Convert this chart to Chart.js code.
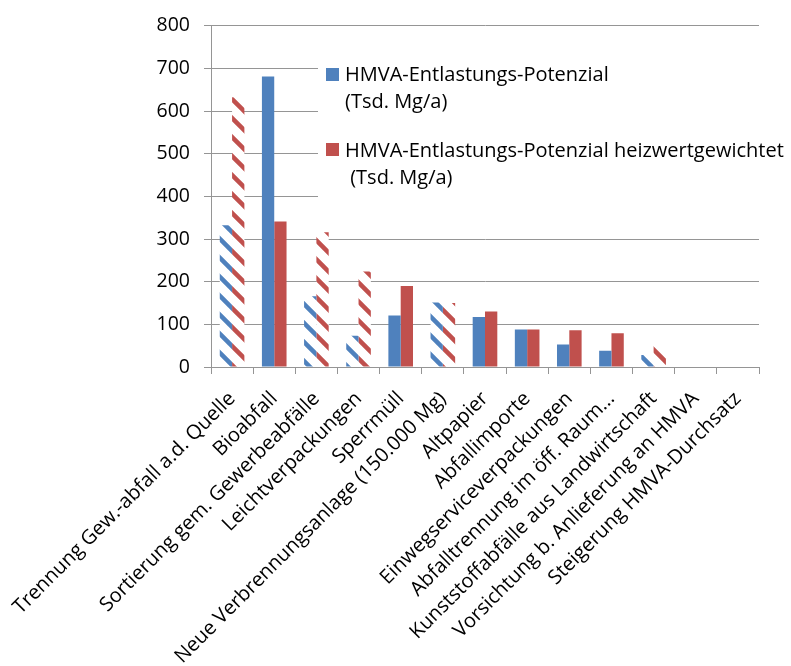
<!DOCTYPE html>
<html><head><meta charset="utf-8">
<script src="https://cdn.jsdelivr.net/npm/chart.js@4.4.1/dist/chart.umd.min.js"></script>
<style>html,body{margin:0;padding:0;background:#fff;overflow:hidden}</style>
</head><body>
<canvas id="c" width="791" height="666"></canvas>
<script>
// ---- data ----
const categories = [
  'Trennung Gew.-abfall a.d. Quelle',
  'Bioabfall',
  'Sortierung gem. Gewerbeabfälle',
  'Leichtverpackungen',
  'Sperrmüll',
  'Neue Verbrennungsanlage (150.000 Mg)',
  'Altpapier',
  'Abfallimporte',
  'Einwegserviceverpackungen',
  'Abfalltrennung im öff. Raum...',
  'Kunststoffabfälle aus Landwirtschaft',
  'Vorsichtung b. Anlieferung an HMVA',
  'Steigerung HMVA-Durchsatz'
];
const potenzial         = [332, 681, 166, 73, 121, 151, 117, 88, 53, 38, 28, 0, 0];
const potenzialHeizwert = [632, 341, 316, 224, 190, 150, 130, 88, 86, 79, 49, 0, 0];
// bars drawn hatched in the original (estimated values)
const potenzialGeschaetzt = [true, false, true, true, false, true, false, false, false, false, true, false, false];
const heizwertGeschaetzt  = [true, false, true, true, false, true, false, false, false, false, true, false, false];
const legendPotenzial = ['HMVA-Entlastungs-Potenzial', '(Tsd. Mg/a)'];
const legendHeizwert  = ['HMVA-Entlastungs-Potenzial heizwertgewichtet', ' (Tsd. Mg/a)'];
const yMin = 0, yMax = 800, yStep = 100;

// ---- styles ----
const BLUE = '#4F81BD', RED = '#C0504D', GRID = '#959595';
const canvas = document.getElementById('c');
const ctx = canvas.getContext('2d');

function hatch(color) {
  const P = 19;
  const t = document.createElement('canvas');
  t.width = P; t.height = P;
  const g = t.getContext('2d');
  g.fillStyle = '#fff'; g.fillRect(0, 0, P, P);
  g.strokeStyle = color; g.lineWidth = 4.5;
  g.beginPath();
  for (const k of [-P, 0, P]) { g.moveTo(-3, -3 + k); g.lineTo(P + 3, P + 3 + k); }
  g.stroke();
  return ctx.createPattern(t, 'repeat');
}
const blueHatch = hatch(BLUE), redHatch = hatch(RED);

Chart.defaults.font.family = "'Open Sans', sans-serif";
Chart.defaults.color = '#000';

const legendPlugin = {
  id: 'customLegend',
  afterDatasetsDraw(chart) {
    const c = chart.ctx;
    c.save();
    c.fillStyle = '#fff';
    c.fillRect(318, 48, 473, 156);
    const items = [
      {color: BLUE, lines: legendPotenzial, boxY: 68, base: 81},
      {color: RED, lines: legendHeizwert, boxY: 143, base: 157}
    ];
    c.font = "20px 'Open Sans', sans-serif";
    c.textBaseline = 'alphabetic';
    c.textAlign = 'left';
    for (const it of items) {
      c.fillStyle = it.color;
      c.fillRect(326, it.boxY, 13, 13);
      c.fillStyle = '#000';
      it.lines.forEach((ln, i) => c.fillText(ln, 345, it.base + i * 27));
    }
    c.restore();
  }
};

new Chart(ctx, {
  type: 'bar',
  data: {
    labels: categories,
    datasets: [
      {
        label: legendPotenzial.join(' '),
        data: potenzial,
        backgroundColor: potenzialGeschaetzt.map(h => h ? blueHatch : BLUE),
        borderWidth: 0
      },
      {
        label: legendHeizwert.join(' '),
        data: potenzialHeizwert,
        backgroundColor: heizwertGeschaetzt.map(h => h ? redHatch : RED),
        borderWidth: 0
      }
    ]
  },
  options: {
    responsive: false,
    animation: false,
    devicePixelRatio: 1,
    layout: {padding: {top: 22, right: 32, left: 0, bottom: 0}},
    datasets: {bar: {categoryPercentage: 0.584, barPercentage: 1.0}},
    plugins: {legend: {display: false}, tooltip: {enabled: false}},
    scales: {
      x: {
        grid: {drawOnChartArea: false, drawTicks: true, tickLength: 7, color: GRID, offset: true},
        border: {color: GRID},
        ticks: {autoSkip: false, minRotation: 45, maxRotation: 45, padding: 13, font: {size: 20}, color: '#000'},
        afterFit(scale) { scale.height = 299; scale.paddingLeft = 0; scale.paddingRight = 0; }
      },
      y: {
        min: yMin, max: yMax,
        grid: {drawTicks: true, tickLength: 7, color: GRID},
        border: {color: GRID},
        ticks: {stepSize: yStep, padding: 14, font: {size: 19.5}, color: '#000'},
        afterFit(scale) { scale.width = 211; }
      }
    }
  },
  plugins: [legendPlugin]
});
</script>
</body></html>
